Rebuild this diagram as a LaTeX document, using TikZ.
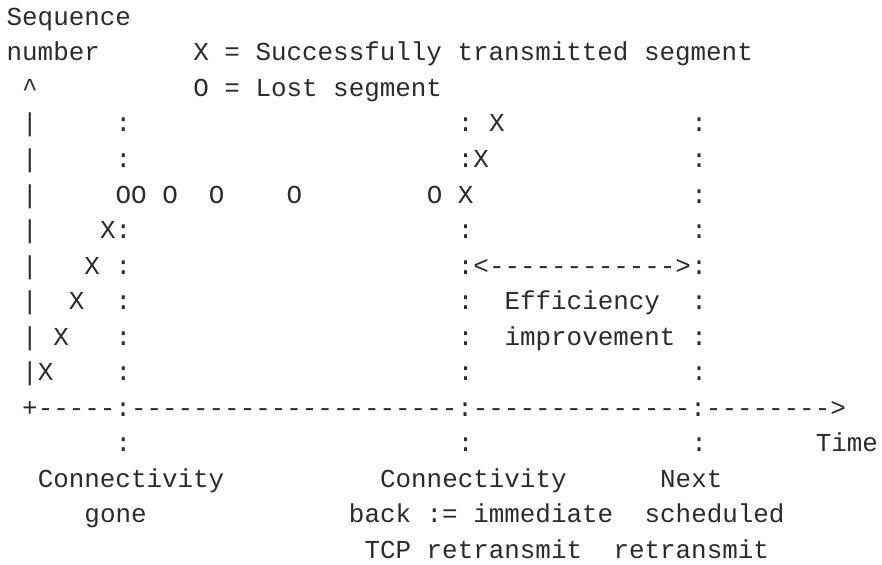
\documentclass[tikz,border=0pt]{standalone}
\usepackage{fontspec}
\setmonofont{Liberation Mono}
\usepackage{xcolor}
\definecolor{ink}{HTML}{2B2B2B}
\tikzset{
  asc/.style={font=\ttfamily\fontsize{25.9}{30}\selectfont, text=ink,
    anchor=base west, inner sep=0pt, outer sep=0pt},
  % character cell: column #1, line #2
  cell/.style 2 args={at={(6.66+15.56*#1, 25.5+35.5*#2)}},
}

\begin{document}
\begin{tikzpicture}[x=1pt, y=-1pt]
  \useasboundingbox (0,0) rectangle (882,564);
  % axis title and key
  \node[asc, cell={0}{0}] (ytitle1) {Sequence};
  \node[asc, cell={0}{1}] (ytitle2) {number};
  \node[asc, cell={12}{1}] (keyx) {X = Successfully transmitted segment};
  \node[asc, cell={12}{2}] (keyo) {O = Lost segment};
  % sequence axis
  \node[asc, cell={1}{2}] (ytip) {\textasciicircum};
  \foreach \r in {3,...,10}
    \node[asc, cell={1}{\r}] (ybar\r) {|};
  % time axis
  \node[asc, cell={1}{11}] (xaxis) {+-----:---------------------:--------------:-------->};
  \node[asc, cell={52}{12}] (xtitle) {Time};
  % dotted event columns
  \foreach \c/\rows in {7/{3,4,6,7,8,9,10,12}, 29/{3,4,6,7,8,9,10,12}, 44/{3,4,5,6,7,8,9,10,12}}
    \foreach \r in \rows
      \node[asc, cell={\c}{\r}] (tick\c-\r) {:};
  % segments before the outage
  \foreach \c/\r in {6/6, 5/7, 4/8, 3/9, 2/10}
    \node[asc, cell={\c}{\r}] (sent\r) {X};
  % lost segments
  \foreach \c in {7,8,10,13,18,27}
    \node[asc, cell={\c}{5}] (lost\c) {O};
  % segments after reconnect
  \foreach \c/\r in {29/5, 30/4, 31/3}
    \node[asc, cell={\c}{\r}] (resent\r) {X};
  % gained time
  \node[asc, cell={30}{7}] (gain) {<------------>};
  \node[asc, cell={32}{8}] (gain1) {Efficiency};
  \node[asc, cell={32}{9}] (gain2) {improvement};
  % event labels
  \node[asc, cell={2}{13}] (gonea) {Connectivity};
  \node[asc, cell={5}{14}] (goneb) {gone};
  \node[asc, cell={24}{13}] (backa) {Connectivity};
  \node[asc, cell={22}{14}] (backb) {back := immediate};
  \node[asc, cell={23}{15}] (backc) {TCP retransmit};
  \node[asc, cell={42}{13}] (nexta) {Next};
  \node[asc, cell={41}{14}] (nextb) {scheduled};
  \node[asc, cell={39}{15}] (nextc) {retransmit};
\end{tikzpicture}
\end{document}
